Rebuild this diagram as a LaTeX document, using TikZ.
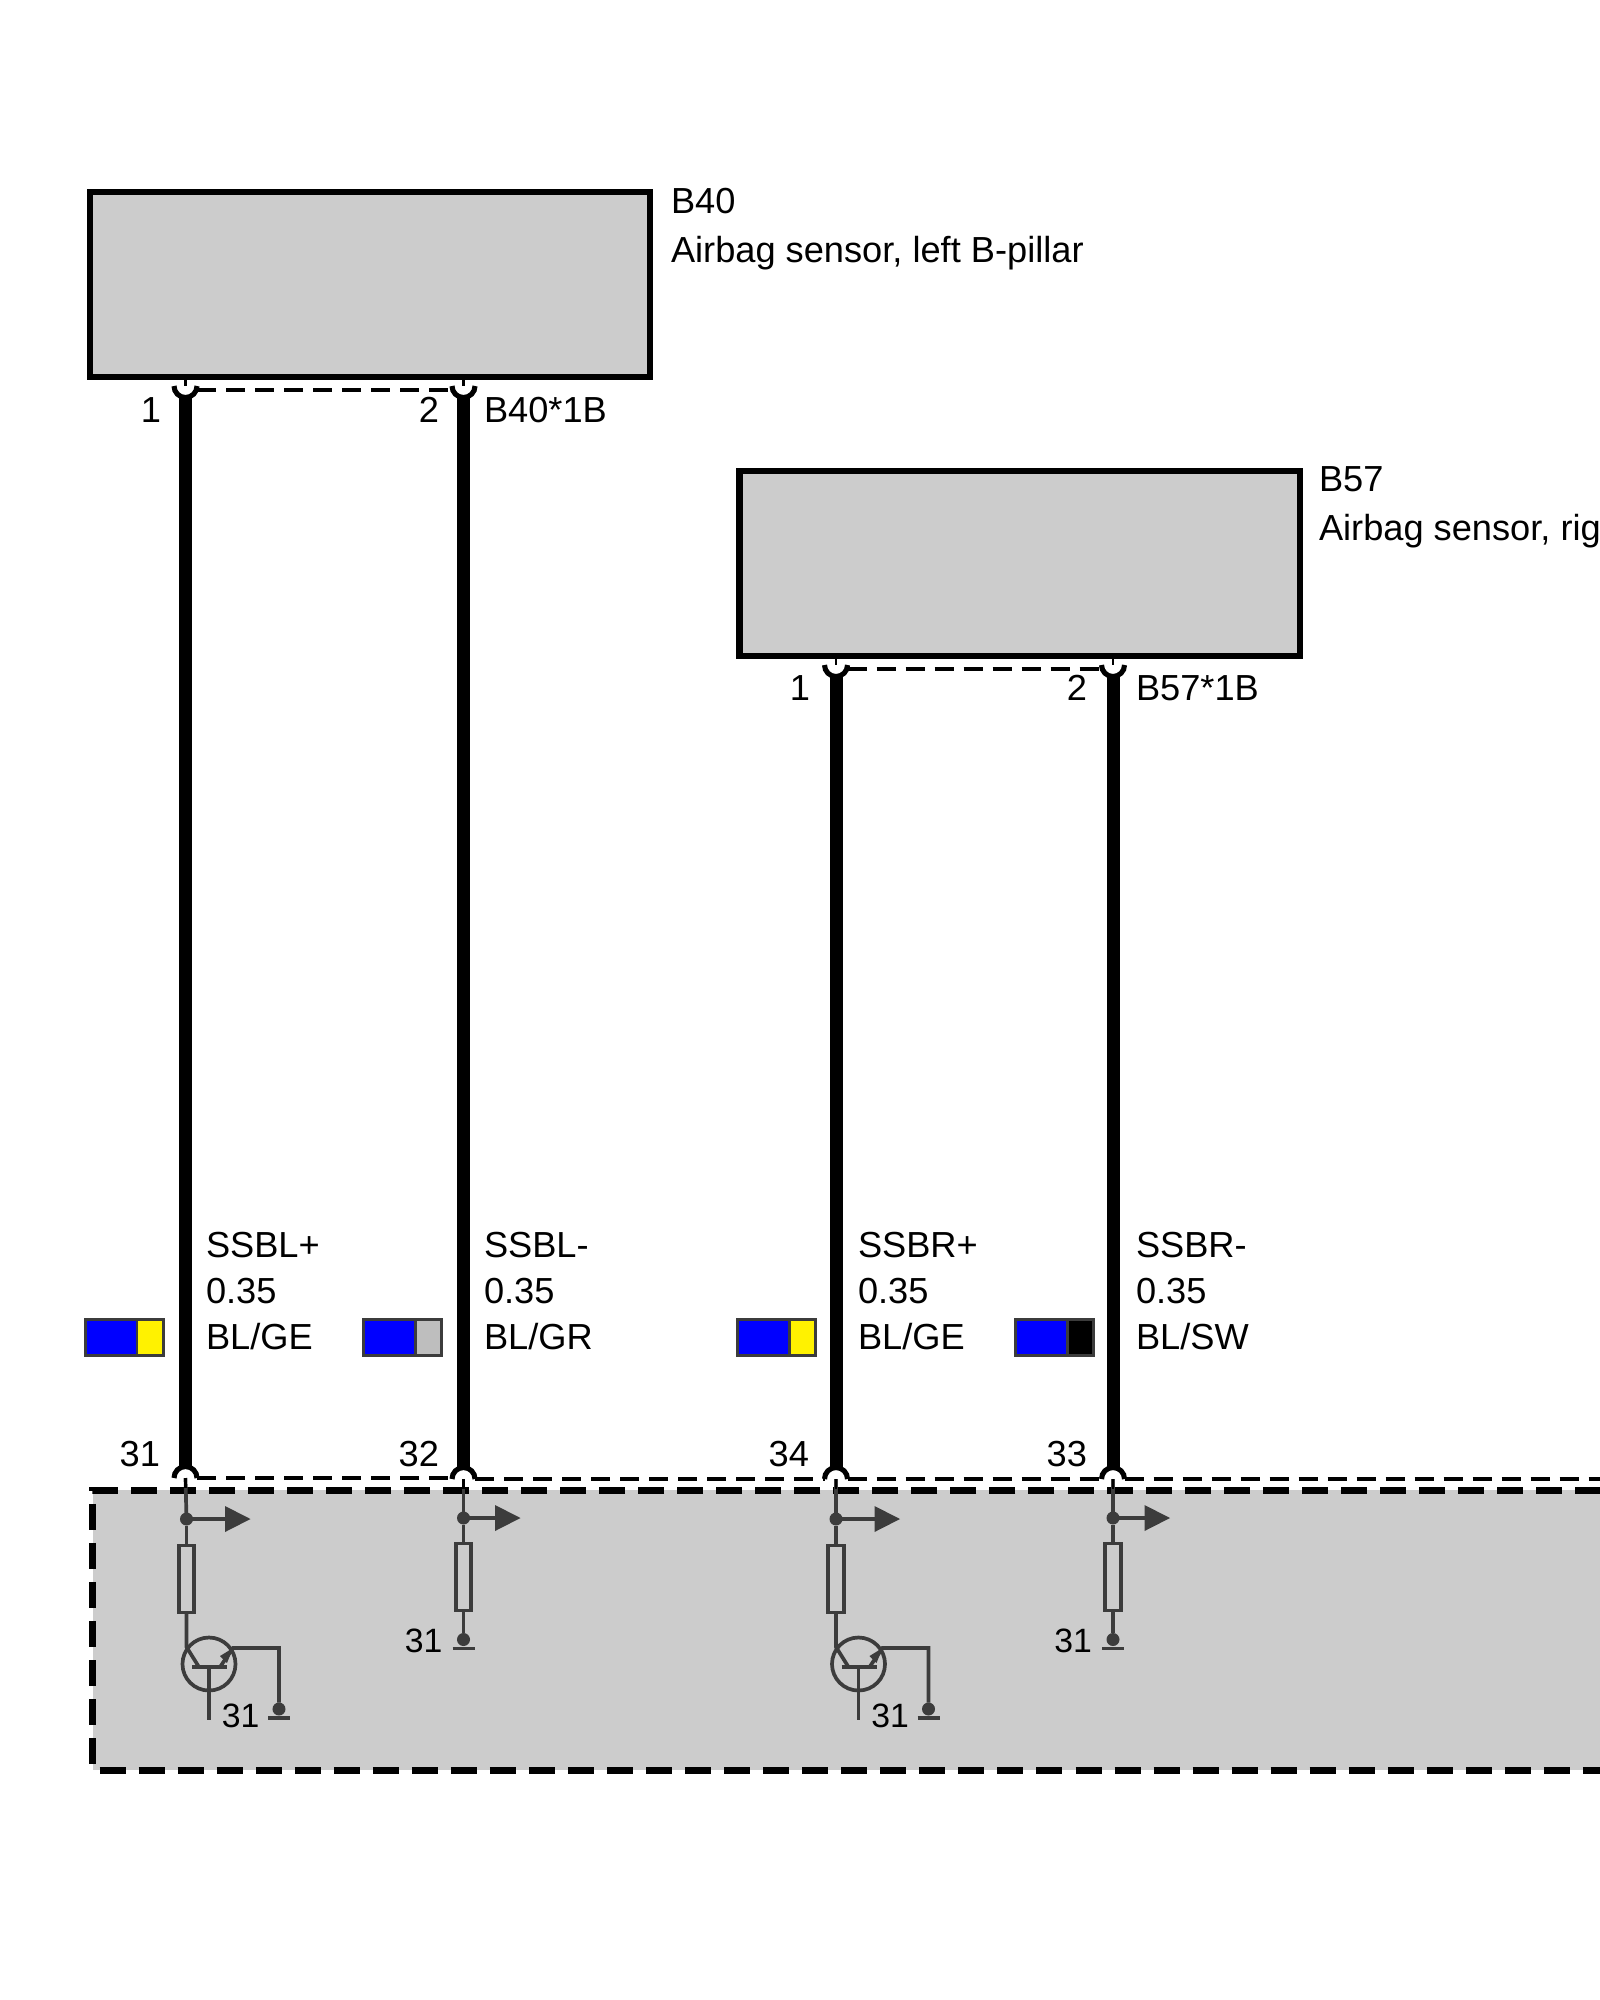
\documentclass[tikz,border=0pt]{standalone}
\usepackage{fontspec}
\setmainfont{Liberation Sans}
\definecolor{panel}{HTML}{CCCCCC}
\definecolor{inner}{HTML}{3C3C3C}
\definecolor{swgrey}{HTML}{BEBEBE}
\tikzset{
  every node/.style={font=\fontsize{10.3}{12}\selectfont,inner sep=0pt,outer sep=0pt,text=black},
  lab/.style={anchor=base west},
  rlab/.style={anchor=base east},
  small31/.style={anchor=base east,font=\fontsize{9.6}{11}\selectfont},
  device/.style={draw=black,fill=panel,line width=1.75pt},
  wire/.style={draw=black,line width=3.7pt},
  pinarc/.style={draw=black,line width=1.45pt},
  stub/.style={draw=black,line width=0.6pt},
  shieldline/.style={draw=black,line width=0.95pt,dash pattern=on 5.4pt off 2.85pt},
  ecu/.style={draw=black,fill=panel,line width=2pt,dash pattern=on 7.4pt off 3.7pt},
  circ/.style={draw=inner,line width=1.05pt},
  dotn/.style={circle,fill=inner,minimum size=0.13cm},
  resn/.style={draw=inner,line width=1.05pt,minimum width=0.155cm,minimum height=0.67cm},
  transn/.style={circle,draw=inner,line width=1.05pt,minimum size=0.53cm},
  sw/.style={draw=inner,line width=0.85pt},
}
% #1 name, #2 x: pin at the top of a wire, #3 y of the arc centre
\newcommand{\toppin}[3]{%
  \coordinate (#1) at (#2,#3);
  \draw[pinarc] (#2-11.5,#3) arc[start angle=180,end angle=360,radius=0.115cm];
}
\newcommand{\botpin}[3]{%
  \coordinate (#1) at (#2,#3);
  \draw[pinarc] (#2-11.5,#3) arc[start angle=180,end angle=0,radius=0.115cm];
}
% stage: #1 prefix, #2 x, #3 dot y, #4 resistor centre y, #5 arrow tip distance
\newcommand{\stagetop}[5]{%
  \node[dotn] (#1d) at (#2,#3) {};
  \node[resn] (#1r) at (#2,#4) {};
  \coordinate (#1a) at (#2+#5,#3);
  \draw[circ] (#1d) -- (#1r.north);
  \draw[circ] (#1d.center) -- (#2+#5-24,#3);
  \fill[inner] (#2+#5-25.5,#3-13) -- (#1a) -- (#2+#5-25.5,#3+13) -- cycle;
}
\newcommand{\stagepull}[1]{%
  \coordinate (#1x) at ($(#1r.south)+(22.5,51.5)$);
  \node[transn] (#1q) at (#1x) {};
  \coordinate (#1c) at ($(#1q)+(-22.5,-17)$);
  \coordinate (#1e) at ($(#1q)+(24,-16)$);
  \coordinate (#1bl) at ($(#1q)+(-17,3)$);
  \coordinate (#1br) at ($(#1q)+(18,3)$);
  \coordinate (#1g) at ($(#1q)+(70,45)$);
  \node[dotn] (#1gd) at (#1g) {};
  \node[small31] (#1t) at ($(#1q)+(50.5,63)$) {31};
  \draw[circ] (#1r.south) -- (#1c) -- ($(#1q)+(-10,3)$);
  \draw[circ] (#1bl) -- (#1br);
  \draw[circ] ($(#1q)+(0,3)$) -- ($(#1q)+(0,56)$);
  \draw[circ] ($(#1q)+(11,3)$) -- (#1e) -- ($(#1q)+(70,-16)$) -- (#1gd);
  \fill[inner] (#1e) -- ($(#1q)+(11,-8)$) -- ($(#1q)+(18,-1)$) -- cycle;
  \draw[inner,line width=1.05pt] ($(#1g)+(-11,9)$) -- ($(#1g)+(11,9)$);
}
\newcommand{\stagegnd}[1]{%
  \node[dotn] (#1gd) at ($(#1r.south)+(0,29)$) {};
  \node[small31] (#1t) at ($(#1r.south)+(-21,42)$) {31};
  \draw[circ] (#1r.south) -- (#1gd);
  \draw[inner,line width=1.05pt] ($(#1gd)+(-11,9)$) -- ($(#1gd)+(11,9)$);
}
% swatch: #1 name, #2 left x, #3 second colour
\newcommand{\swatch}[3]{%
  \fill[blue] (#2+1.5,1319.5) rectangle (#2+53,1355.5);
  \fill[#3] (#2+53,1319.5) rectangle (#2+79.5,1355.5);
  \draw[sw] (#2+1.5,1319.5) rectangle (#2+79.5,1355.5);
  \draw[sw] (#2+53,1319.5) -- (#2+53,1355.5);
}
\usetikzlibrary{calc}
\begin{document}
\begin{tikzpicture}[x=0.01cm,y=-0.01cm]
\useasboundingbox (0,0) rectangle (1600,2000);
\fill[white] (0,0) rectangle (1600,2000);

% devices
\node[device,anchor=north west,minimum width=5.60cm,minimum height=1.85cm] (B40) at (90,192) {};
\node[device,anchor=north west,minimum width=5.60cm,minimum height=1.85cm] (B57) at (739.5,471) {};
\node[lab] (B40n) at (671,213) {B40};
\node[lab] (B40t) at (671,262) {Airbag sensor, left B-pillar};
\node[lab] (B57n) at (1319,491) {B57};
\node[lab] (B57t) at (1319,540) {Airbag sensor, rig};

% ECU panel
\path[ecu] (1640,1490) -- (92.5,1490) -- (92.5,1770) -- (1640,1770);
\fill[panel] (1600,1493) rectangle (1640,1767);

% pins
\toppin{a1}{185.5}{386}
\toppin{a2}{463.5}{386}
\toppin{a3}{836}{665}
\toppin{a4}{1113}{665}
\botpin{b1}{185.5}{1478}
\botpin{b2}{463.5}{1479}
\botpin{b3}{836}{1479}
\botpin{b4}{1113}{1479}

% stubs from devices to pins
\draw[stub] (a1 |- B40.south) -- (a1);
\draw[stub] (a2 |- B40.south) -- (a2);
\draw[stub] (a3 |- B57.south) -- (a3);
\draw[stub] (a4 |- B57.south) -- (a4);

% shield lines
\draw[shieldline] ($(a1)+(11.5,4)$) -- ($(a2)+(-11.5,4)$);
\draw[shieldline] ($(a3)+(11.5,4)$) -- ($(a4)+(-11.5,4)$);
\coordinate (b2l) at ($(b2)+(-11.5,-1)$);
\draw[shieldline] ($(b1)+(11.5,0)$) -- (b2l);
\draw[shieldline] ($(b2)+(11.5,0)$) -- ($(b3)+(-11.5,0)$);
\draw[shieldline] ($(b3)+(11.5,0)$) -- ($(b4)+(-11.5,0)$);
\coordinate (bend) at (1600,1479);
\draw[shieldline] ($(b4)+(11.5,0)$) -- (bend);

% wires
\draw[wire] ($(a1)+(0,11)$) -- ($(b1)+(0,-11)$);
\draw[wire] ($(a2)+(0,11)$) -- ($(b2)+(0,-11)$);
\draw[wire] ($(a3)+(0,11)$) -- ($(b3)+(0,-11)$);
\draw[wire] ($(a4)+(0,11)$) -- ($(b4)+(0,-11)$);

% inner stubs
\draw[circ] (b1) -- (186.5,1519);
\draw[circ] (b2) -- (463.5,1518);
\draw[circ] (b3) -- (836,1519);
\draw[circ] (b4) -- (1113,1518);
\draw[black,line width=0.7pt] (b1) -- ($(b1)+(0,10)$);
\draw[black,line width=0.7pt] (b2) -- ($(b2)+(0,10)$);
\draw[black,line width=0.7pt] (b3) -- ($(b3)+(0,10)$);
\draw[black,line width=0.7pt] (b4) -- ($(b4)+(0,10)$);

% stages
\stagetop{s}{186.5}{1519}{1579}{64}
\stagepull{s}
\stagetop{t}{463.5}{1518}{1577}{57}
\stagegnd{t}
\stagetop{u}{836}{1519}{1579}{64}
\stagepull{u}
\stagetop{v}{1113}{1518}{1577}{57}
\stagegnd{v}

% pin labels
\node[rlab] (n1) at (161,422) {1};
\node[rlab] (n2) at (439,422) {2};
\node[lab] (B40c) at (484,422) {B40*1B};
\node[rlab] (n3) at (810,700) {1};
\node[rlab] (n4) at (1087,700) {2};
\node[lab] (B57c) at (1136,700) {B57*1B};
\node[rlab] (m1) at (160,1466) {31};
\node[rlab] (m2) at (439,1466) {32};
\node[rlab] (m3) at (809,1466) {34};
\node[rlab] (m4) at (1087,1466) {33};

% wire labels
\foreach \xx/\na/\col in {206/SSBL+/BL\slash GE,484/SSBL-/BL\slash GR,858/SSBR+/BL\slash GE,1136/SSBR-/BL\slash SW}{
  \node[lab] at (\xx,1257) {\na};
  \node[lab] at (\xx,1303) {0.35};
  \node[lab] at (\xx,1349) {\col};
}
\swatch{w1}{84}{yellow}
\swatch{w2}{362}{swgrey}
\swatch{w3}{736}{yellow}
\swatch{w4}{1014}{black}
\end{tikzpicture}
\end{document}
